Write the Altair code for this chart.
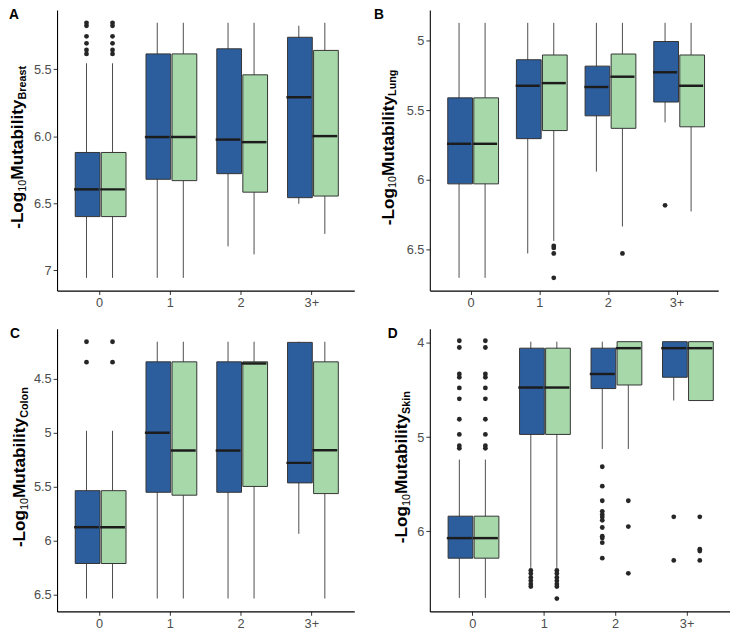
import altair as alt
import pandas as pd

categories = ["0", "1", "2", "3+"]
groups = ["Blue", "Green"]
colors = ["#2C5E9E", "#A6D8A9"]

# box statistics, order: 0-Blue, 0-Green, 1-Blue, 1-Green, 2-Blue, 2-Green, 3+-Blue, 3+-Green
breast_low = [5.455, 5.455, 5.153, 5.153, 5.153, 5.153, 5.175, 5.153]
breast_q1 = [6.12, 6.12, 5.385, 5.385, 5.347, 5.541, 5.261, 5.359]
breast_med = [6.395, 6.395, 6.005, 6.005, 6.024, 6.043, 5.708, 5.998]
breast_q3 = [6.598, 6.598, 6.32, 6.33, 6.278, 6.416, 6.457, 6.445]
breast_high = [7.055, 7.055, 7.055, 7.055, 6.82, 6.88, 6.502, 6.727]
breast_outliers = [("0", "Blue", v) for v in [5.153, 5.175, 5.254, 5.306, 5.356, 5.385]] + \
                  [("0", "Green", v) for v in [5.153, 5.175, 5.254, 5.306, 5.356, 5.385]]

lung_low = [4.873, 4.873, 4.873, 4.873, 4.873, 4.873, 4.873, 4.873]
lung_q1 = [5.412, 5.412, 5.138, 5.104, 5.184, 5.097, 5.007, 5.104]
lung_med = [5.742, 5.742, 5.325, 5.306, 5.334, 5.26, 5.228, 5.325]
lung_q3 = [6.03, 6.03, 5.705, 5.647, 5.541, 5.631, 5.442, 5.62]
lung_high = [6.705, 6.705, 6.53, 6.44, 5.942, 6.336, 5.588, 6.228]
lung_outliers = [("1", "Green", v) for v in [6.475, 6.49, 6.53, 6.705]] + \
                [("2", "Green", 6.53), ("3+", "Blue", 6.184)]

colon_low = [4.982, 4.982, 4.158, 4.158, 4.158, 4.158, 4.158, 4.158]
colon_q1 = [5.536, 5.536, 4.344, 4.344, 4.344, 4.344, 4.164, 4.344]
colon_med = [5.874, 5.874, 5.0, 5.165, 5.165, 4.359, 5.279, 5.162]
colon_q3 = [6.21, 6.21, 5.551, 5.578, 5.551, 5.497, 5.464, 5.563]
colon_high = [6.534, 6.534, 6.534, 6.534, 6.534, 6.534, 5.935, 6.534]
colon_outliers = [("0", "Blue", v) for v in [4.158, 4.347]] + \
                 [("0", "Green", v) for v in [4.158, 4.347]]

skin_low = [5.238, 5.238, 3.986, 3.986, 3.986, 3.986, 3.986, 3.986]
skin_q1 = [5.839, 5.839, 4.055, 4.055, 4.055, 3.986, 3.986, 3.986]
skin_med = [6.072, 6.072, 4.473, 4.473, 4.329, 4.055, 4.055, 4.055]
skin_q3 = [6.285, 6.285, 4.971, 4.971, 4.484, 4.446, 4.364, 4.611]
skin_high = [6.707, 6.707, 6.388, 6.388, 5.125, 5.125, 4.611, 4.611]
skin_out0 = [3.976, 4.048, 4.329, 4.364, 4.477, 4.593, 4.81, 4.971, 5.091, 5.118]
skin_out1b = [6.415, 6.449, 6.49, 6.525, 6.56, 6.587]
skin_out1g = [6.415, 6.449, 6.49, 6.525, 6.56, 6.587, 6.714]
skin_out2b = [5.314, 5.52, 5.675, 5.787, 5.822, 5.849, 5.883, 5.959, 6.051, 6.072, 6.12, 6.285]
skin_out2g = [5.675, 5.949, 6.446]
skin_out3b = [5.846, 6.309]
skin_out3g = [5.846, 6.19, 6.21, 6.309]
skin_outliers = ([("0", "Blue", v) for v in skin_out0] + [("0", "Green", v) for v in skin_out0] +
                 [("1", "Blue", v) for v in skin_out1b] + [("1", "Green", v) for v in skin_out1g] +
                 [("2", "Blue", v) for v in skin_out2b] + [("2", "Green", v) for v in skin_out2g] +
                 [("3+", "Blue", v) for v in skin_out3b] + [("3+", "Green", v) for v in skin_out3g])

breast_ticks = [5.5, 6.0, 6.5, 7]
breast_tick_labels = ["5.5", "6.0", "6.5", "7"]
lung_ticks = [5, 5.5, 6, 6.5]
lung_tick_labels = ["5", "5.5", "6", "6.5"]
colon_ticks = [4.5, 5, 5.5, 6, 6.5]
colon_tick_labels = ["4.5", "5", "5.5", "6", "6.5"]
skin_ticks = [4, 5, 6]
skin_tick_labels = ["4", "5", "6"]

FONT = "Liberation Sans"
BOLD_W = {'-': 333, 'L': 611, 'o': 611, 'g': 611, 'M': 833, 'u': 611, 't': 333, 'a': 556,
          'b': 611, 'i': 278, 'l': 278, 'y': 556, 'B': 722, 'r': 389, 'e': 556, 's': 556,
          'n': 611, 'C': 722, 'S': 667, 'k': 556}
REG_W = {'1': 556, '0': 556}


def text_width(s, size, bold):
    table = BOLD_W if bold else REG_W
    return sum(table.get(c, 556) for c in s) * size / 1000.0


def panel(letter, sub, low, q1, med, q3, high, outliers, ticks, tick_labels, domain,
          w, h, label_dx, title_dx):
    rows = []
    for i in range(8):
        rows.append(dict(cat=categories[i // 2], grp=groups[i % 2], lo=low[i], q1=q1[i],
                         med=med[i], q3=q3[i], hi=high[i]))
    df = pd.DataFrame(rows)
    odf = pd.DataFrame(outliers, columns=["cat", "grp", "val"])
    step = w / 4.2

    xenc = alt.X("cat:N", sort=categories,
                 scale=alt.Scale(domain=categories, paddingInner=0, paddingOuter=0.1),
                 axis=alt.Axis(title=None, labelAngle=0))
    xo = alt.XOffset("grp:N", sort=groups,
                     scale=alt.Scale(domain=groups, paddingInner=0, paddingOuter=0.359))
    yscale = alt.Scale(domain=domain, reverse=True, nice=False, zero=False)
    label_expr = " : ".join(f"datum.value == {v} ? '{l}'" for v, l in zip(ticks, tick_labels)) + " : ''"
    yaxis = alt.Axis(title=None, values=ticks, labelExpr=label_expr)

    base = alt.Chart(df)
    whisk = base.mark_rule(color="#4a4a4a", strokeWidth=1).encode(
        x=xenc, xOffset=xo, y=alt.Y("lo:Q", scale=yscale, axis=yaxis), y2="hi:Q")
    box = base.mark_bar(width=alt.RelativeBandSize(0.95), stroke="#333333", strokeWidth=1,
                        opacity=1).encode(
        x=xenc, xOffset=xo, y=alt.Y("q1:Q", scale=yscale), y2="q3:Q",
        color=alt.Color("grp:N", scale=alt.Scale(domain=groups, range=colors), legend=None))
    medl = base.mark_tick(size=0.35 * step, thickness=2.5, color="#1c1c1c", opacity=1).encode(
        x=xenc, xOffset=xo, y=alt.Y("med:Q", scale=yscale))
    pts = alt.Chart(odf).mark_circle(size=24, color="#262626", opacity=1).encode(
        x=xenc, xOffset=xo, y=alt.Y("val:Q", scale=yscale))

    pieces = [("-Log", 17.5, True, 0), ("10", 11, False, 3), ("Mutability", 17.5, True, 0),
              (sub, 11, True, 3)]
    total = sum(text_width(p, s, b) for p, s, b, _ in pieces)
    ypos = h / 2 - 3 + total / 2
    texts = []
    for p, s, b, shift in pieces:
        t = alt.Chart(pd.DataFrame({"t": [p]})).mark_text(
            angle=270, align="left", baseline="alphabetic", font=FONT, fontSize=s,
            fontWeight="bold" if b else "normal", color="black").encode(
            x=alt.value(title_dx + shift), y=alt.value(ypos), text="t:N")
        texts.append(t)
        ypos -= text_width(p, s, b)
    lab = alt.Chart(pd.DataFrame({"t": [letter]})).mark_text(
        align="left", baseline="top", font=FONT, fontSize=14, fontWeight="bold",
        color="black").encode(x=alt.value(label_dx), y=alt.value(-2), text="t:N")

    return alt.layer(whisk, box, medl, pts, *texts, lab).properties(width=w, height=h)


H1 = 286
H2 = 288
pA = panel("A", "Breast", breast_low, breast_q1, breast_med, breast_q3, breast_high,
           breast_outliers, breast_ticks, breast_tick_labels, [5.058, 7.15], 303, H1, -49, -35)
pB = panel("B", "Lung", lung_low, lung_q1, lung_med, lung_q3, lung_high,
           lung_outliers, lung_ticks, lung_tick_labels, [4.781, 6.797], 294, H1, -57, -37)
pC = panel("C", "Colon", colon_low, colon_q1, colon_med, colon_q3, colon_high,
           colon_outliers, colon_ticks, colon_tick_labels, [4.039, 6.653], 303, H2, -48, -33)
pD = panel("D", "Skin", skin_low, skin_q1, skin_med, skin_q3, skin_high,
           skin_outliers, skin_ticks, skin_tick_labels, [3.85, 6.85], 306, H2, -43, -23.5)

chart = alt.concat(pA, pB, pC, pD, columns=2, spacing={"row": 18, "column": 20}).properties(
    padding={"left": 0, "top": -6, "right": 0, "bottom": 0}
).configure_view(stroke=None).configure_axis(
    grid=False, domainColor="black", domainWidth=1.1, tickColor="#333333", tickSize=4,
    tickWidth=1, labelColor="#4d4d4d", labelFontSize=13, labelFont=FONT, labelPadding=2
)

chart.save("out.html", embed_options={"renderer": "svg", "actions": False})
